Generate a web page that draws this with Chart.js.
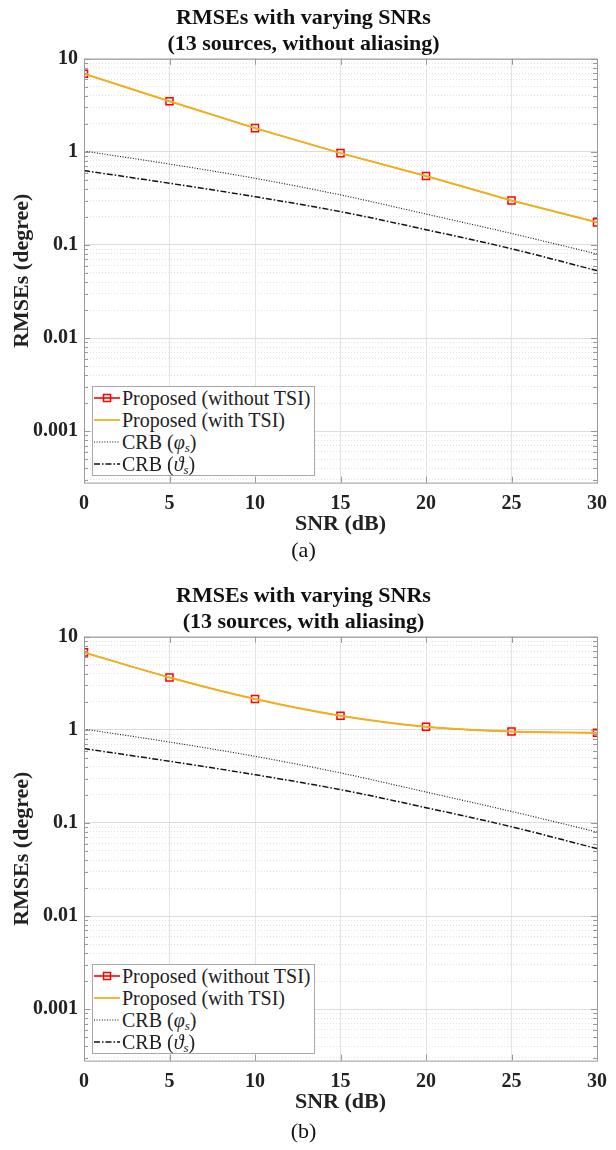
<!DOCTYPE html>
<html>
<head>
<meta charset="utf-8">
<script src="https://cdn.jsdelivr.net/npm/chart.js@4.4.1/dist/chart.umd.min.js"></script>
<style>
  body { margin: 0; background: #fff; }
  .panel { position: relative; width: 616px; }
  .legend {
    position: absolute; left: 92px; top: 386px; width: 221px;
    border: 1px solid #a8a8a8; background: #fff;
    font-family: 'Liberation Serif', serif; font-size: 20px; color: #222;
  }
  .legend .row { height: 22px; line-height: 22px; display: flex; align-items: center; white-space: nowrap; }
  .legend svg { width: 28px; height: 22px; margin-right: 1px; flex: none; }
  .legend sub { font-size: 13px; font-style: italic; vertical-align: -3px; line-height: 0; }
</style>
</head>
<body>
<div class="panel" style="height:578px"><canvas id="chartA"></canvas><div class="legend" id="legA"></div></div>
<div class="panel" style="height:572px"><canvas id="chartB"></canvas><div class="legend" id="legB"></div></div>
<script>
// SNR grid (dB)
const snr = [0, 5, 10, 15, 20, 25, 30];
const xTicks = [0, 5, 10, 15, 20, 25, 30];
const yDecades = [0.001, 0.01, 0.1, 1, 10];

// (a) without aliasing
const propA = [6.9, 3.5, 1.8, 0.97, 0.55, 0.30, 0.175];
// (b) with aliasing
const propB = [6.8, 3.66, 2.15, 1.42, 1.08, 0.96, 0.93];
// CRB curves (same for both panels)
const crbPhi = [1.02, 0.74, 0.52, 0.345, 0.215, 0.133, 0.080];
const crbTheta = [0.63, 0.46, 0.33, 0.228, 0.146, 0.091, 0.053];

const legendNames = ['Proposed (without TSI)', 'Proposed (with TSI)', 'CRB (φ_s)', 'CRB (ϑ_s)'];

const RED = '#ff0000';
const ORANGE = '#edb120';
const AXIS = '#9a9a9a';

function pts(vals) { return snr.map((x, i) => ({ x: x, y: vals[i] })); }

function isDecade(v) {
  const l = Math.log10(v);
  return Math.abs(l - Math.round(l)) < 1e-9;
}

// MATLAB-style box with inward tick marks
const boxPlugin = {
  id: 'box',
  afterDatasetsDraw(chart) {
    const { ctx, chartArea: a, scales } = chart;
    ctx.save();
    ctx.strokeStyle = AXIS;
    ctx.lineWidth = 1;
    ctx.strokeRect(a.left + 0.5, a.top + 0.5, a.right - a.left, a.bottom - a.top);
    ctx.beginPath();
    scales.y.ticks.forEach(t => {
      const y = Math.round(scales.y.getPixelForValue(t.value)) + 0.5;
      const len = isDecade(t.value) ? 6 : 4;
      ctx.moveTo(a.left, y); ctx.lineTo(a.left + len, y);
      ctx.moveTo(a.right, y); ctx.lineTo(a.right - len, y);
    });
    scales.x.ticks.forEach(t => {
      const x = Math.round(scales.x.getPixelForValue(t.value)) + 0.5;
      ctx.moveTo(x, a.bottom); ctx.lineTo(x, a.bottom - 6);
      ctx.moveTo(x, a.top); ctx.lineTo(x, a.top + 6);
    });
    ctx.stroke();
    ctx.restore();
  }
};

function makeChart(id, prop, subtitleText, subPad, smooth) {
  const line = {
    borderWidth: 1.6,
    pointRadius: 0,
    cubicInterpolationMode: smooth ? 'monotone' : 'default',
    tension: 0
  };
  return new Chart(document.getElementById(id), {
    type: 'line',
    data: {
      datasets: [
        Object.assign({}, line, {
          label: legendNames[0], data: pts(prop), borderColor: RED, borderWidth: 1,
          pointStyle: 'rect', pointRadius: 5, pointBorderColor: RED,
          pointBackgroundColor: 'rgba(0,0,0,0)', pointBorderWidth: 1.5, order: 1
        }),
        Object.assign({}, line, { label: legendNames[1], data: pts(prop), borderColor: ORANGE, borderWidth: 2, order: 0 }),
        Object.assign({}, line, { label: legendNames[2], data: pts(crbPhi), borderColor: '#111', borderWidth: 1.1, borderDash: [1, 1.6], cubicInterpolationMode: 'monotone', order: 0 }),
        Object.assign({}, line, { label: legendNames[3], data: pts(crbTheta), borderColor: '#111', borderWidth: 1.5, borderDash: [6, 2, 1.5, 2], cubicInterpolationMode: 'monotone', order: 0 })
      ]
    },
    options: {
      responsive: true,
      maintainAspectRatio: false,
      animation: false,
      layout: { padding: { left: 0, right: 9, top: 0, bottom: 0 } },
      plugins: {
        legend: { display: false },
        tooltip: { enabled: false },
        title: {
          display: true,
          text: ['RMSEs with varying SNRs', subtitleText[0]],
          color: '#111',
          font: { family: 'Liberation Serif', size: 22, weight: 'bold', lineHeight: 1.2 },
          padding: { top: 5, bottom: 1 }
        },
        subtitle: {
          display: true,
          position: 'bottom',
          text: subtitleText[1],
          color: '#111',
          font: { family: 'Liberation Serif', size: 22, weight: 'normal', lineHeight: 1.2 },
          padding: subPad
        }
      },
      scales: {
        x: {
          type: 'linear', min: 0, max: 30,
          afterBuildTicks: s => { s.ticks = xTicks.map(v => ({ value: v })); },
          afterFit: s => { s.height = 55; },
          ticks: { color: '#222', padding: 9, font: { family: 'Liberation Serif', size: 20, weight: 'bold' } },
          grid: { color: '#e4e4e4', lineWidth: 1, drawTicks: false },
          border: { display: false },
          title: {
            display: true, text: 'SNR (dB)', color: '#222',
            font: { family: 'Liberation Serif', size: 22, weight: 'bold', lineHeight: 1.2 },
            padding: { top: 0, bottom: 0 }
          }
        },
        y: {
          type: 'logarithmic', min: 0.00028, max: 10,
          afterBuildTicks: s => {
            const t = [];
            for (let e = -4; e <= 1; e++) {
              for (let m = 1; m <= 9; m++) {
                const v = m * Math.pow(10, e);
                if (v >= 0.00028 * 0.999 && v <= 10.0001) t.push({ value: v });
              }
            }
            s.ticks = t;
          },
          afterFit: s => { s.width = 84; },
          ticks: {
            autoSkip: false, color: '#222', padding: 6,
            font: { family: 'Liberation Serif', size: 20, weight: 'bold' },
            callback: v => {
              const d = yDecades.find(x => Math.abs(x - v) / x < 1e-6);
              return d !== undefined ? String(d) : '';
            }
          },
          grid: {
            drawTicks: false,
            color: c => (c.tick && isDecade(c.tick.value)) ? '#dcdcdc' : '#e2e2e2',
            lineWidth: 1
          },
          border: {
            display: false,
            dash: c => (c.tick && !isDecade(c.tick.value)) ? [1, 2] : []
          },
          title: {
            display: true, text: 'RMSEs (degree)', color: '#222',
            font: { family: 'Liberation Serif', size: 22, weight: 'bold', lineHeight: 1.2 },
            padding: { top: 9, bottom: 0 }
          }
        }
      }
    },
    plugins: [boxPlugin]
  });
}

function sample(kind) {
  if (kind === 0) {
    return `<svg viewBox="0 0 28 22"><line x1="1" y1="11" x2="27" y2="11" stroke="${RED}" stroke-width="1.6"/>` +
      `<rect x="10.5" y="7.5" width="7" height="7" fill="none" stroke="${RED}" stroke-width="1.5"/></svg>`;
  }
  if (kind === 1) return `<svg viewBox="0 0 28 22"><line x1="1" y1="11" x2="27" y2="11" stroke="${ORANGE}" stroke-width="1.8"/></svg>`;
  if (kind === 2) return `<svg viewBox="0 0 28 22"><line x1="1" y1="11" x2="27" y2="11" stroke="#111" stroke-width="1.1" stroke-dasharray="1 1.6"/></svg>`;
  return `<svg viewBox="0 0 28 22"><line x1="1" y1="11" x2="27" y2="11" stroke="#111" stroke-width="1.5" stroke-dasharray="6 2 1.5 2"/></svg>`;
}

function fillLegend(id) {
  const el = document.getElementById(id);
  el.innerHTML = legendNames.map((n, i) => {
    const txt = n.replace(/(.)_s/, '<i>$1</i><sub>s</sub>');
    return `<div class="row">${sample(i)}<span>${txt}</span></div>`;
  }).join('');
}

makeChart('chartA', propA, ['(13 sources, without aliasing)', '(a)'], { top: 0, bottom: 14 }, false);
makeChart('chartB', propB, ['(13 sources, with aliasing)', '(b)'], { top: 3, bottom: 5 }, true);
fillLegend('legA');
fillLegend('legB');
</script>
</body>
</html>
